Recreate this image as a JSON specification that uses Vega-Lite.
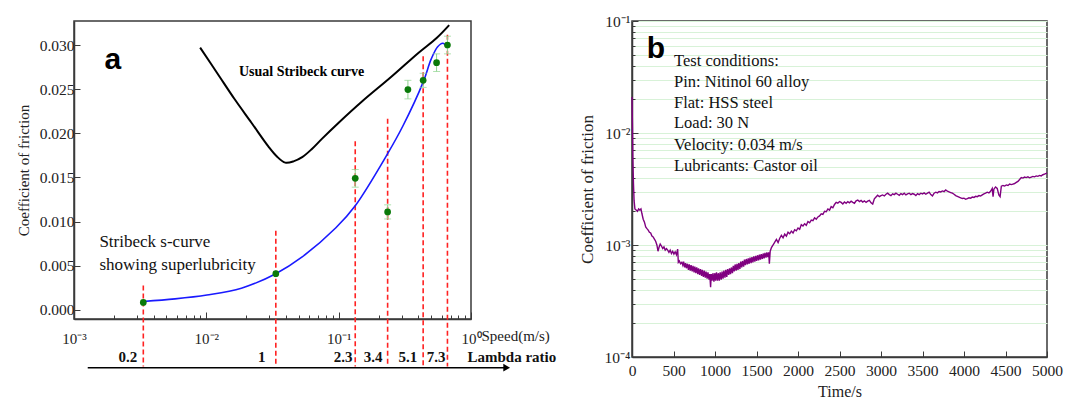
{
  "$schema": "https://vega.github.io/schema/vega-lite/v6.json",
  "background": "white",
  "padding": {"left": 15, "top": 13, "right": 2, "bottom": 0},
  "spacing": 161,
  "bounds": "flush",
  "config": {
    "view": {"stroke": "#3a3a3a", "strokeWidth": 1.5},
    "axis": {
      "labelFont": "Liberation Serif",
      "titleFont": "Liberation Serif",
      "labelColor": "#222",
      "titleColor": "#222",
      "titleFontWeight": "normal",
      "domainColor": "#3a3a3a",
      "domainWidth": 1.5,
      "tickColor": "#3a3a3a",
      "tickWidth": 1,
      "labelFlush": false,
      "labelOverlap": false,
      "grid": false
    }
  },
  "datasets": {
    "redLines": [
      {"s": 0.00334, "c": 0.00276, "c2": -0.0064},
      {"s": 0.0335, "c": 0.00897, "c2": -0.0064},
      {"s": 0.1334, "c": 0.0191, "c2": -0.0064},
      {"s": 0.2344, "c": 0.02166, "c2": -0.0064},
      {"s": 0.435, "c": 0.02874, "c2": -0.0064},
      {"s": 0.6637, "c": 0.03115, "c2": -0.0064}
    ],
    "usual": [
      {"s": 0.00898, "c": 0.0297},
      {"s": 0.01217, "c": 0.02675},
      {"s": 0.01633, "c": 0.02388},
      {"s": 0.02193, "c": 0.0212},
      {"s": 0.0294, "c": 0.01852},
      {"s": 0.034, "c": 0.0174},
      {"s": 0.0395, "c": 0.01668},
      {"s": 0.046, "c": 0.01685},
      {"s": 0.053, "c": 0.0173},
      {"s": 0.0625, "c": 0.0182},
      {"s": 0.075, "c": 0.0194},
      {"s": 0.1, "c": 0.0212},
      {"s": 0.15, "c": 0.0236},
      {"s": 0.25, "c": 0.0264},
      {"s": 0.4, "c": 0.0291},
      {"s": 0.55, "c": 0.0308},
      {"s": 0.684, "c": 0.03226}
    ],
    "sCurve": [
      {"s": 0.00334, "c": 0.00096},
      {"s": 0.0058, "c": 0.00125},
      {"s": 0.0101, "c": 0.00169},
      {"s": 0.0184, "c": 0.00246},
      {"s": 0.0335, "c": 0.0041},
      {"s": 0.053, "c": 0.006},
      {"s": 0.0953, "c": 0.0093},
      {"s": 0.1334, "c": 0.0118},
      {"s": 0.2344, "c": 0.0177},
      {"s": 0.305, "c": 0.0208},
      {"s": 0.435, "c": 0.0258},
      {"s": 0.5, "c": 0.0284},
      {"s": 0.56, "c": 0.0298},
      {"s": 0.612, "c": 0.0302},
      {"s": 0.664, "c": 0.0297}
    ],
    "err": [
      {"s": 0.00334, "c": 0.00055, "c2": 0.00115},
      {"s": 0.0335, "c": 0.0037, "c2": 0.0045},
      {"s": 0.1334, "c": 0.0139, "c2": 0.0159},
      {"s": 0.2344, "c": 0.0103, "c2": 0.0119},
      {"s": 0.3336, "c": 0.0239, "c2": 0.026},
      {"s": 0.435, "c": 0.0252, "c2": 0.0268},
      {"s": 0.5495, "c": 0.027, "c2": 0.029},
      {"s": 0.6637, "c": 0.029, "c2": 0.031}
    ],
    "caps": [
      {"s": 0.1334, "c": 0.0139}, {"s": 0.1334, "c": 0.0159},
      {"s": 0.2344, "c": 0.0103}, {"s": 0.2344, "c": 0.0119},
      {"s": 0.3336, "c": 0.0239}, {"s": 0.3336, "c": 0.026},
      {"s": 0.435, "c": 0.0252}, {"s": 0.435, "c": 0.0268},
      {"s": 0.5495, "c": 0.027}, {"s": 0.5495, "c": 0.029},
      {"s": 0.6637, "c": 0.029}, {"s": 0.6637, "c": 0.031}
    ],
    "pts": [
      {"s": 0.00334, "c": 0.00085},
      {"s": 0.0335, "c": 0.0041},
      {"s": 0.1334, "c": 0.0149},
      {"s": 0.2344, "c": 0.0111},
      {"s": 0.3336, "c": 0.02495},
      {"s": 0.435, "c": 0.026},
      {"s": 0.5495, "c": 0.028},
      {"s": 0.6637, "c": 0.03}
    ],
    "lambda": [
      {"s": 0.00255, "c": -0.00528, "label": "0.2"},
      {"s": 0.0262, "c": -0.00528, "label": "1"},
      {"s": 0.108, "c": -0.00528, "label": "2.3"},
      {"s": 0.182, "c": -0.00528, "label": "3.4"},
      {"s": 0.333, "c": -0.00528, "label": "5.1"},
      {"s": 0.545, "c": -0.00528, "label": "7.3"}
    ],
    "purple": [
      {"t": 0, "c": 0.021}, {"t": 5, "c": 0.012}, {"t": 10, "c": 0.006}, {"t": 18, "c": 0.0035},
      {"t": 25, "c": 0.0025}, {"t": 35, "c": 0.0021}, {"t": 50, "c": 0.00205}, {"t": 65, "c": 0.002},
      {"t": 80, "c": 0.0021}, {"t": 95, "c": 0.00205}, {"t": 108, "c": 0.0021}, {"t": 120, "c": 0.0019},
      {"t": 135, "c": 0.0017}, {"t": 150, "c": 0.0016}, {"t": 165, "c": 0.00145}, {"t": 180, "c": 0.0014},
      {"t": 195, "c": 0.00136}, {"t": 210, "c": 0.0013}, {"t": 225, "c": 0.00128}, {"t": 240, "c": 0.0012},
      {"t": 255, "c": 0.00118}, {"t": 270, "c": 0.00113}, {"t": 285, "c": 0.00108}, {"t": 300, "c": 0.001},
      {"t": 313, "c": 0.00088}, {"t": 325, "c": 0.00095}, {"t": 340, "c": 0.00102}, {"t": 355, "c": 0.00098},
      {"t": 370, "c": 0.00093}, {"t": 385, "c": 0.00096}, {"t": 400, "c": 0.0009}, {"t": 415, "c": 0.00093},
      {"t": 430, "c": 0.0009}, {"t": 445, "c": 0.00086}, {"t": 460, "c": 0.0009}, {"t": 475, "c": 0.00084},
      {"t": 490, "c": 0.00088}, {"t": 505, "c": 0.00083}, {"t": 520, "c": 0.00087}, {"t": 535, "c": 0.00082},
      {"t": 550, "c": 0.00092}, {"t": 558, "c": 0.0007}, {"t": 570, "c": 0.00072}, {"t": 585, "c": 0.00068},
      {"t": 600, "c": 0.0007}, {"t": 612, "c": 0.00066}, {"t": 622, "c": 0.00071}, {"t": 634, "c": 0.00063},
      {"t": 645, "c": 0.00069}, {"t": 655, "c": 0.00062}, {"t": 668, "c": 0.00068}, {"t": 680, "c": 0.0006},
      {"t": 690, "c": 0.00067}, {"t": 702, "c": 0.00059}, {"t": 712, "c": 0.00066}, {"t": 725, "c": 0.00058},
      {"t": 735, "c": 0.00065}, {"t": 748, "c": 0.00057}, {"t": 757, "c": 0.00064}, {"t": 770, "c": 0.00056},
      {"t": 780, "c": 0.00063}, {"t": 793, "c": 0.00055}, {"t": 802, "c": 0.00062}, {"t": 815, "c": 0.00054},
      {"t": 825, "c": 0.00061}, {"t": 838, "c": 0.00053}, {"t": 847, "c": 0.0006}, {"t": 860, "c": 0.00052},
      {"t": 870, "c": 0.00059}, {"t": 883, "c": 0.00051}, {"t": 892, "c": 0.00058}, {"t": 905, "c": 0.0005},
      {"t": 915, "c": 0.00057}, {"t": 928, "c": 0.00049}, {"t": 937, "c": 0.00055}, {"t": 947, "c": 0.00042},
      {"t": 955, "c": 0.00055}, {"t": 965, "c": 0.00048}, {"t": 975, "c": 0.00056}, {"t": 987, "c": 0.00047},
      {"t": 997, "c": 0.00056}, {"t": 1008, "c": 0.00048}, {"t": 1018, "c": 0.00057}, {"t": 1030, "c": 0.00048},
      {"t": 1040, "c": 0.00056}, {"t": 1052, "c": 0.00048}, {"t": 1062, "c": 0.00057}, {"t": 1075, "c": 0.00049},
      {"t": 1085, "c": 0.00058}, {"t": 1097, "c": 0.0005}, {"t": 1107, "c": 0.00059}, {"t": 1120, "c": 0.00051},
      {"t": 1130, "c": 0.0006}, {"t": 1142, "c": 0.00052}, {"t": 1152, "c": 0.00061}, {"t": 1165, "c": 0.00054},
      {"t": 1175, "c": 0.00062}, {"t": 1187, "c": 0.00055}, {"t": 1197, "c": 0.00063}, {"t": 1210, "c": 0.00056},
      {"t": 1220, "c": 0.00065}, {"t": 1232, "c": 0.00058}, {"t": 1242, "c": 0.00067}, {"t": 1255, "c": 0.00059},
      {"t": 1265, "c": 0.00068}, {"t": 1277, "c": 0.0006}, {"t": 1287, "c": 0.00069}, {"t": 1300, "c": 0.00061},
      {"t": 1310, "c": 0.00071}, {"t": 1322, "c": 0.00063}, {"t": 1332, "c": 0.00072}, {"t": 1345, "c": 0.00064},
      {"t": 1355, "c": 0.00074}, {"t": 1367, "c": 0.00066}, {"t": 1377, "c": 0.00075}, {"t": 1390, "c": 0.00067},
      {"t": 1400, "c": 0.00076}, {"t": 1412, "c": 0.00068}, {"t": 1422, "c": 0.00077}, {"t": 1435, "c": 0.00069},
      {"t": 1445, "c": 0.00078}, {"t": 1457, "c": 0.0007}, {"t": 1467, "c": 0.00079}, {"t": 1480, "c": 0.00071},
      {"t": 1490, "c": 0.0008}, {"t": 1502, "c": 0.00072}, {"t": 1512, "c": 0.00081}, {"t": 1525, "c": 0.00073},
      {"t": 1535, "c": 0.00082}, {"t": 1547, "c": 0.00074}, {"t": 1557, "c": 0.00083}, {"t": 1570, "c": 0.00075},
      {"t": 1580, "c": 0.00084}, {"t": 1592, "c": 0.00076}, {"t": 1602, "c": 0.00085}, {"t": 1615, "c": 0.00077},
      {"t": 1625, "c": 0.00086}, {"t": 1637, "c": 0.00078}, {"t": 1647, "c": 0.00086}, {"t": 1655, "c": 0.00068},
      {"t": 1665, "c": 0.00088}, {"t": 1680, "c": 0.00095}, {"t": 1700, "c": 0.001}, {"t": 1720, "c": 0.00106},
      {"t": 1740, "c": 0.00112}, {"t": 1760, "c": 0.00105}, {"t": 1780, "c": 0.00115}, {"t": 1800, "c": 0.00122},
      {"t": 1820, "c": 0.00116}, {"t": 1840, "c": 0.00125}, {"t": 1860, "c": 0.0012}, {"t": 1880, "c": 0.0013},
      {"t": 1900, "c": 0.00126}, {"t": 1920, "c": 0.00133}, {"t": 1940, "c": 0.00128}, {"t": 1960, "c": 0.00137},
      {"t": 1980, "c": 0.00134}, {"t": 2000, "c": 0.00142}, {"t": 2020, "c": 0.00138}, {"t": 2040, "c": 0.00152},
      {"t": 2060, "c": 0.00148}, {"t": 2080, "c": 0.00155}, {"t": 2100, "c": 0.0015}, {"t": 2120, "c": 0.00162},
      {"t": 2140, "c": 0.00158}, {"t": 2160, "c": 0.00167}, {"t": 2180, "c": 0.00165}, {"t": 2200, "c": 0.00175},
      {"t": 2220, "c": 0.0017}, {"t": 2240, "c": 0.00178}, {"t": 2260, "c": 0.00182}, {"t": 2280, "c": 0.0019},
      {"t": 2300, "c": 0.00188}, {"t": 2320, "c": 0.002}, {"t": 2340, "c": 0.00198}, {"t": 2360, "c": 0.0021},
      {"t": 2380, "c": 0.00205}, {"t": 2400, "c": 0.0022}, {"t": 2420, "c": 0.00215}, {"t": 2440, "c": 0.0023},
      {"t": 2460, "c": 0.0024}, {"t": 2480, "c": 0.00236}, {"t": 2500, "c": 0.00244}, {"t": 2520, "c": 0.0024},
      {"t": 2540, "c": 0.00232}, {"t": 2560, "c": 0.00242}, {"t": 2580, "c": 0.00236}, {"t": 2600, "c": 0.00244},
      {"t": 2620, "c": 0.00238}, {"t": 2640, "c": 0.00246}, {"t": 2660, "c": 0.0024}, {"t": 2680, "c": 0.00236},
      {"t": 2700, "c": 0.00248}, {"t": 2720, "c": 0.00252}, {"t": 2740, "c": 0.00244}, {"t": 2760, "c": 0.0025},
      {"t": 2780, "c": 0.00242}, {"t": 2800, "c": 0.00248}, {"t": 2820, "c": 0.0024}, {"t": 2840, "c": 0.00246},
      {"t": 2860, "c": 0.0025}, {"t": 2880, "c": 0.00238}, {"t": 2900, "c": 0.00232}, {"t": 2920, "c": 0.00258},
      {"t": 2940, "c": 0.00268}, {"t": 2960, "c": 0.00278}, {"t": 2980, "c": 0.0027}, {"t": 3000, "c": 0.00276},
      {"t": 3020, "c": 0.0028}, {"t": 3040, "c": 0.00274}, {"t": 3060, "c": 0.00284}, {"t": 3080, "c": 0.0029},
      {"t": 3100, "c": 0.00282}, {"t": 3120, "c": 0.00276}, {"t": 3140, "c": 0.00286}, {"t": 3160, "c": 0.00282},
      {"t": 3180, "c": 0.0029}, {"t": 3200, "c": 0.00284}, {"t": 3220, "c": 0.00278}, {"t": 3240, "c": 0.00288},
      {"t": 3260, "c": 0.00282}, {"t": 3280, "c": 0.0029}, {"t": 3300, "c": 0.0028}, {"t": 3320, "c": 0.00286},
      {"t": 3340, "c": 0.0029}, {"t": 3360, "c": 0.00282}, {"t": 3380, "c": 0.00288}, {"t": 3400, "c": 0.00284},
      {"t": 3420, "c": 0.00276}, {"t": 3440, "c": 0.00288}, {"t": 3460, "c": 0.00282}, {"t": 3480, "c": 0.0029},
      {"t": 3500, "c": 0.00286}, {"t": 3520, "c": 0.00292}, {"t": 3540, "c": 0.00284}, {"t": 3560, "c": 0.0029},
      {"t": 3580, "c": 0.00296}, {"t": 3600, "c": 0.00282}, {"t": 3620, "c": 0.00274}, {"t": 3640, "c": 0.0029},
      {"t": 3660, "c": 0.00296}, {"t": 3680, "c": 0.00292}, {"t": 3700, "c": 0.003}, {"t": 3720, "c": 0.00298},
      {"t": 3740, "c": 0.00304}, {"t": 3760, "c": 0.003}, {"t": 3780, "c": 0.0031}, {"t": 3800, "c": 0.00302},
      {"t": 3820, "c": 0.00298}, {"t": 3840, "c": 0.00294}, {"t": 3860, "c": 0.0029}, {"t": 3880, "c": 0.00284},
      {"t": 3900, "c": 0.00276}, {"t": 3920, "c": 0.00272}, {"t": 3940, "c": 0.00268}, {"t": 3960, "c": 0.00264},
      {"t": 3980, "c": 0.0026}, {"t": 4000, "c": 0.00262}, {"t": 4020, "c": 0.00256}, {"t": 4040, "c": 0.0026},
      {"t": 4060, "c": 0.00264}, {"t": 4080, "c": 0.00262}, {"t": 4100, "c": 0.00268}, {"t": 4120, "c": 0.00266},
      {"t": 4140, "c": 0.00272}, {"t": 4160, "c": 0.0027}, {"t": 4180, "c": 0.00276}, {"t": 4200, "c": 0.00274},
      {"t": 4220, "c": 0.0028}, {"t": 4240, "c": 0.00286}, {"t": 4260, "c": 0.0029}, {"t": 4280, "c": 0.00296},
      {"t": 4300, "c": 0.00292}, {"t": 4320, "c": 0.00302}, {"t": 4340, "c": 0.0032}, {"t": 4350, "c": 0.0027},
      {"t": 4360, "c": 0.00315}, {"t": 4380, "c": 0.0033}, {"t": 4400, "c": 0.0032}, {"t": 4420, "c": 0.0028},
      {"t": 4435, "c": 0.0027}, {"t": 4450, "c": 0.00335}, {"t": 4470, "c": 0.0034}, {"t": 4490, "c": 0.00336},
      {"t": 4510, "c": 0.00344}, {"t": 4530, "c": 0.0034}, {"t": 4550, "c": 0.0035}, {"t": 4570, "c": 0.00346},
      {"t": 4590, "c": 0.0035}, {"t": 4610, "c": 0.00354}, {"t": 4630, "c": 0.00362}, {"t": 4650, "c": 0.0037},
      {"t": 4670, "c": 0.00385}, {"t": 4690, "c": 0.004}, {"t": 4710, "c": 0.00396}, {"t": 4730, "c": 0.00404},
      {"t": 4750, "c": 0.004}, {"t": 4770, "c": 0.00406}, {"t": 4790, "c": 0.00398}, {"t": 4810, "c": 0.00404},
      {"t": 4830, "c": 0.0041}, {"t": 4850, "c": 0.00406}, {"t": 4870, "c": 0.00414}, {"t": 4890, "c": 0.0041},
      {"t": 4910, "c": 0.00418}, {"t": 4930, "c": 0.00414}, {"t": 4950, "c": 0.00424}, {"t": 4970, "c": 0.0043},
      {"t": 4990, "c": 0.00436}, {"t": 5000, "c": 0.0044}
    ],
    "conditions": [
      {"t": 506, "c": 0.0439, "label": "Test conditions:"},
      {"t": 506, "c": 0.0285, "label": "Pin: Nitinol 60 alloy"},
      {"t": 506, "c": 0.01854, "label": "Flat: HSS steel"},
      {"t": 506, "c": 0.01228, "label": "Load: 30 N"},
      {"t": 506, "c": 0.00781, "label": "Velocity: 0.034 m/s"},
      {"t": 506, "c": 0.00507, "label": "Lubricants: Castor oil"}
    ]
  },
  "hconcat": [
    {
      "width": 397,
      "height": 298,
      "view": {"stroke": "#3a3a3a", "strokeWidth": 1.5},
      "encoding": {
        "x": {
          "field": "s",
          "type": "quantitative",
          "scale": {"type": "log", "domain": [0.001, 1], "nice": false},
          "axis": {
            "title": null,
            "tickValues": [0.001, 0.002, 0.003, 0.004, 0.005, 0.006, 0.007, 0.008, 0.009, 0.01, 0.02, 0.03, 0.04, 0.05, 0.06, 0.07, 0.08, 0.09, 0.1, 0.2, 0.3, 0.4, 0.5, 0.6, 0.7, 0.8, 0.9, 1],
            "labelExpr": "datum.value == 0.001 ? '10⁻³' : datum.value == 0.01 ? '10⁻²' : datum.value == 0.1 ? '10⁻¹' : datum.value == 1 ? '10⁰' : ''",
            "tickSize": {"condition": {"test": "indexof([0.001, 0.01, 0.1, 1], datum.value) >= 0", "value": -7}, "value": -4},
            "labelPadding": 19,
            "labelFontSize": 15
          }
        },
        "y": {
          "field": "c",
          "type": "quantitative",
          "scale": {"domain": [-0.00103, 0.03272], "nice": false, "zero": false},
          "axis": {
            "title": "Coefficient of friction",
            "titleFontSize": 15,
            "titlePadding": 8,
            "tickValues": [0, 0.0025, 0.005, 0.0075, 0.01, 0.0125, 0.015, 0.0175, 0.02, 0.0225, 0.025, 0.0275, 0.03],
            "labelExpr": "round(datum.value * 10000) % 50 == 0 ? format(datum.value, '.3f') : ''",
            "tickSize": {"condition": {"test": "round(datum.value * 10000) % 50 == 0", "value": -6}, "value": -3},
            "labelPadding": 6,
            "labelFontSize": 15.5
          }
        }
      },
      "layer": [
        {
          "data": {"name": "redLines"},
          "mark": {"type": "rule", "color": "#ff2222", "strokeDash": [5, 3], "strokeWidth": 1.6},
          "encoding": {"y2": {"field": "c2"}}
        },
        {
          "data": {"name": "usual"},
          "mark": {"type": "line", "interpolate": "catmull-rom", "color": "#000000", "strokeWidth": 2},
          "encoding": {}
        },
        {
          "data": {"name": "sCurve"},
          "mark": {"type": "line", "interpolate": "catmull-rom", "color": "#1a1aff", "strokeWidth": 1.6},
          "encoding": {}
        },
        {
          "data": {"name": "err"},
          "mark": {"type": "rule", "color": "#8fd48f", "strokeWidth": 1},
          "encoding": {"y2": {"field": "c2"}}
        },
        {
          "data": {"name": "caps"},
          "mark": {"type": "tick", "orient": "horizontal", "color": "#8fd48f", "size": 7, "thickness": 1}
        },
        {
          "data": {"name": "pts"},
          "mark": {"type": "circle", "size": 45, "color": "#0a7a0a", "opacity": 1}
        },
        {
          "data": {"values": [{"s": 0.00197, "c": 0.0283, "label": "a"}]},
          "mark": {"type": "text", "font": "Liberation Sans", "fontSize": 30, "fontWeight": "bold", "color": "#000000"},
          "encoding": {"text": {"field": "label"}}
        },
        {
          "data": {"values": [{"s": 0.0524, "c": 0.02694, "label": "Usual Stribeck curve"}]},
          "mark": {"type": "text", "font": "Liberation Serif", "fontSize": 14, "fontWeight": "bold", "color": "#000000"},
          "encoding": {"text": {"field": "label"}}
        },
        {
          "data": {"values": [
            {"s": 0.001556, "c": 0.00767, "label": "Stribeck s-curve"},
            {"s": 0.001556, "c": 0.00506, "label": "showing superlubricity"}
          ]},
          "mark": {"type": "text", "align": "left", "font": "Liberation Serif", "fontSize": 17, "color": "#111111"},
          "encoding": {"text": {"field": "label"}}
        },
        {
          "data": {"name": "lambda"},
          "mark": {"type": "text", "font": "Liberation Serif", "fontSize": 15, "fontWeight": "bold", "color": "#111111"},
          "encoding": {"text": {"field": "label"}}
        },
        {
          "data": {"values": [{"s": 0.94, "c": -0.00528, "label": "Lambda ratio"}]},
          "mark": {"type": "text", "align": "left", "font": "Liberation Serif", "fontSize": 15, "fontWeight": "bold", "color": "#111111"},
          "encoding": {"text": {"field": "label"}}
        },
        {
          "data": {"values": [{"s": 1.2, "c": -0.00295, "label": "Speed(m/s)"}]},
          "mark": {"type": "text", "align": "left", "font": "Liberation Serif", "fontSize": 15, "color": "#222222"},
          "encoding": {"text": {"field": "label"}}
        },
        {
          "data": {"values": [{"s": 0.00127, "s2": 1.86, "c": -0.00655}]},
          "mark": {"type": "rule", "color": "#000000", "strokeWidth": 1.6},
          "encoding": {"x2": {"field": "s2"}}
        },
        {
          "data": {"values": [{"s": 1.86, "c": -0.00655}]},
          "mark": {"type": "point", "shape": "triangle-right", "filled": true, "size": 60, "color": "#000000", "opacity": 1}
        }
      ]
    },
    {
      "width": 415,
      "height": 336,
      "view": {"stroke": "#3a3a3a", "strokeWidth": 1.5},
      "encoding": {
        "x": {
          "field": "t",
          "type": "quantitative",
          "scale": {"domain": [0, 5000], "nice": false, "zero": false},
          "axis": {
            "title": "Time/s",
            "titleFontSize": 16,
            "titlePadding": 5,
            "format": "d",
            "tickValues": [0, 250, 500, 750, 1000, 1250, 1500, 1750, 2000, 2250, 2500, 2750, 3000, 3250, 3500, 3750, 4000, 4250, 4500, 4750, 5000],
            "labelExpr": "datum.value % 500 == 0 ? datum.label : ''",
            "tickSize": {"condition": {"test": "datum.value % 500 == 0", "value": -6}, "value": -3},
            "labelPadding": 12,
            "labelFontSize": 15.5
          }
        },
        "y": {
          "field": "c",
          "type": "quantitative",
          "scale": {"type": "log", "domain": [0.0001, 0.1], "nice": false},
          "axis": {
            "title": "Coefficient of friction",
            "titleFontSize": 17,
            "titlePadding": 8,
            "tickValues": [0.0001, 0.0002, 0.0003, 0.0004, 0.0005, 0.0006, 0.0007, 0.0008, 0.0009, 0.001, 0.002, 0.003, 0.004, 0.005, 0.006, 0.007, 0.008, 0.009, 0.01, 0.02, 0.03, 0.04, 0.05, 0.06, 0.07, 0.08, 0.09, 0.1],
            "labelExpr": "datum.value == 0.1 ? '10⁻¹' : datum.value == 0.01 ? '10⁻²' : datum.value == 0.001 ? '10⁻³' : datum.value == 0.0001 ? '10⁻⁴' : ''",
            "tickSize": {"condition": {"test": "indexof([0.0001, 0.001, 0.01, 0.1], datum.value) >= 0", "value": -6}, "value": -3},
            "grid": true,
            "gridColor": "#d8f2d8",
            "gridWidth": 1,
            "labelPadding": 8,
            "labelFontSize": 15.5
          }
        }
      },
      "layer": [
        {
          "data": {"name": "purple"},
          "mark": {"type": "line", "color": "#800080", "strokeWidth": 1.4},
          "encoding": {}
        },
        {
          "data": {"values": [{"t": 289, "c": 0.0562, "label": "b"}]},
          "mark": {"type": "text", "font": "Liberation Sans", "fontSize": 30, "fontWeight": "bold", "color": "#000000"},
          "encoding": {"text": {"field": "label"}}
        },
        {
          "data": {"name": "conditions"},
          "mark": {"type": "text", "align": "left", "font": "Liberation Serif", "fontSize": 16.5, "color": "#111111"},
          "encoding": {"text": {"field": "label"}}
        }
      ]
    }
  ]
}
